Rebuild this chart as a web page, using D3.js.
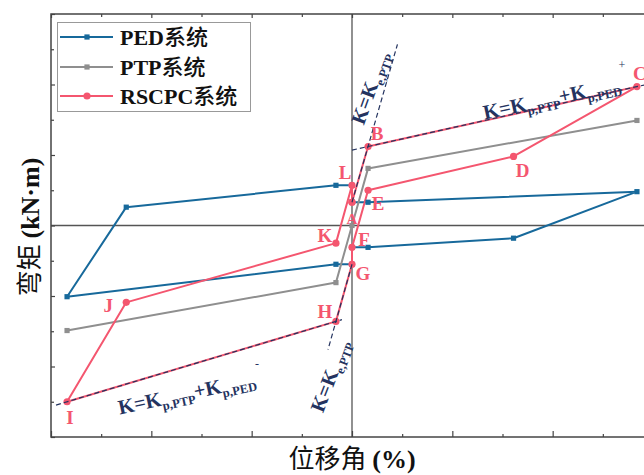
<!DOCTYPE html>
<html><head><meta charset="utf-8">
<script src="https://cdn.jsdelivr.net/npm/d3@7/dist/d3.min.js"></script>
<style>body{margin:0;background:#fff;} svg{display:block;}</style>
</head><body>
<svg id="c" width="644" height="475"></svg>
<script>
// ---------- data ----------
const seriesNames = ["PED系统", "PTP系统", "RSCPC系统"];
const pedX = [0, 0.16, 2.84, 1.61, 0.16, 0, 0, -0.16, -2.84, -2.25, -0.16, 0, 0];
const pedY = [0.33, 0.33, 0.48, -0.18, -0.31, -0.31, -0.55, -0.55, -1.01, 0.26, 0.57, 0.57, 0.33];
const ptpX = [-2.84, -0.16, 0, 0.16, 2.84];
const ptpY = [-1.49, -0.81, 0, 0.81, 1.49];
const rscX = [0, 0.16, 2.84, 1.61, 0.16, 0, 0, -0.16, -2.84, -2.25, -0.16, 0, 0];
const rscY = [0.33, 1.12, 1.97, 0.98, 0.50, -0.31, -0.55, -1.36, -2.50, -1.09, -0.25, 0.57, 0.33];
const pointNames = ["A", "B", "C", "D", "E", "F", "G", "H", "I", "J", "K", "L"];
const pointX = [0, 0.16, 2.84, 1.61, 0.16, 0, 0, -0.16, -2.84, -2.25, -0.16, 0];
const pointY = [0, 1.12, 1.97, 0.98, 0.50, -0.31, -0.55, -1.36, -2.50, -1.09, -0.25, 0.57];
// stiffness guide lines (dashed)
const guideKpUpperX = [0, 2.95], guideKpUpperY = [1.07, 2.005];
const guideKpLowerX = [-2.95, -0.1], guideKpLowerY = [-2.547, -1.335];
const guideKeUpperX = [0, 0.453], guideKeUpperY = [0.33, 2.57];
const guideKeLowerX = [0, -0.239], guideKeLowerY = [-0.55, -1.76];
const xMajorTicks = [-3, -2, -1, 0, 1, 2, 3];
const xMinorTicks = [-2.5, -1.5, -0.5, 0.5, 1.5, 2.5];
const yMajorTicks = [-3, -2, -1, 0, 1, 2, 3];
const yMinorTicks = [-2.5, -1.5, -0.5, 0.5, 1.5, 2.5];

// ---------- layout / style ----------
const colors = ["#17699b", "#8f8f8f", "#f4566f"];
const navy = "#24335f";
const serif = "'Liberation Serif','Times New Roman','Noto Sans CJK SC',serif";
const cjk = "'Noto Sans CJK SC',sans-serif";
const labelOffsets = [[0,-6.5],[9,-13],[3,-13],[9,14],[10,13],[12,-8],[11,9],[-11,-10],[3,16],[-18,3],[-11,-7],[-7,-13]];

const svg = d3.select("#c");
const x = d3.scaleLinear().domain([-3, 3]).range([51, 653]);
const y = d3.scaleLinear().domain([-3, 3]).range([437, 14]);

// zero lines
svg.append("line").attr("x1", x(-3)).attr("x2", x(3)).attr("y1", y(0)).attr("y2", y(0))
  .attr("stroke", "#555").attr("stroke-width", 1.3);
svg.append("line").attr("x1", x(0)).attr("x2", x(0)).attr("y1", y(-3)).attr("y2", y(3))
  .attr("stroke", "#555").attr("stroke-width", 1.3);

// axes (inward ticks, no labels)
function addAxis(gen, tr, vals, size) {
  const g = svg.append("g").attr("transform", tr)
    .call(gen.tickValues(vals).tickSize(size).tickFormat(""));
  g.selectAll("line").attr("stroke", "#444").attr("stroke-width", 1.2);
  g.select(".domain").remove();
}
addAxis(d3.axisBottom(x), `translate(0,${y(-3)})`, xMajorTicks, -6);
addAxis(d3.axisBottom(x), `translate(0,${y(-3)})`, xMinorTicks, -3);
addAxis(d3.axisTop(x), `translate(0,${y(3)})`, xMajorTicks, -4);
addAxis(d3.axisTop(x), `translate(0,${y(3)})`, xMinorTicks, -3);
addAxis(d3.axisLeft(y), `translate(${x(-3)},0)`, yMajorTicks, -4);
addAxis(d3.axisLeft(y), `translate(${x(-3)},0)`, yMinorTicks, -3);
addAxis(d3.axisRight(y), `translate(${x(3)},0)`, yMajorTicks, -4);

// frame
svg.append("rect").attr("x", x(-3)).attr("y", y(3)).attr("width", x(3) - x(-3)).attr("height", y(-3) - y(3))
  .attr("fill", "none").attr("stroke", "#444").attr("stroke-width", 1.5);

const line = d3.line().x(d => x(d[0])).y(d => y(d[1]));
const zip = (a, b) => a.map((v, i) => [v, b[i]]);

const series = [zip(pedX, pedY), zip(ptpX, ptpY), zip(rscX, rscY)];
series.forEach((pts, i) => {
  svg.append("path").attr("d", line(pts)).attr("fill", "none")
    .attr("stroke", colors[i]).attr("stroke-width", 2).attr("stroke-linejoin", "round");
});
// markers
series.forEach((pts, i) => {
  const g = svg.append("g");
  if (i < 2) {
    g.selectAll("rect").data(pts).join("rect")
      .attr("x", d => x(d[0]) - 2.6).attr("y", d => y(d[1]) - 2.6)
      .attr("width", 5.2).attr("height", 5.2).attr("fill", colors[i]);
  } else {
    g.selectAll("circle").data(pts).join("circle")
      .attr("cx", d => x(d[0])).attr("cy", d => y(d[1])).attr("r", 3.6).attr("fill", colors[i]);
  }
});

// dashed guides
[[guideKpUpperX, guideKpUpperY], [guideKpLowerX, guideKpLowerY], [guideKeUpperX, guideKeUpperY], [guideKeLowerX, guideKeLowerY]]
  .forEach(([gx, gy]) => {
    svg.append("path").attr("d", line(zip(gx, gy))).attr("fill", "none")
      .attr("stroke", navy).attr("stroke-width", 1.2).attr("stroke-dasharray", "5,3");
  });

// point labels
pointNames.forEach((n, i) => {
  const o = labelOffsets[i];
  const fs = n === "A" ? 15 : 19;
  svg.append("text").attr("x", x(pointX[i]) + o[0]).attr("y", y(pointY[i]) + o[1] + fs * 0.33)
    .attr("text-anchor", "middle").attr("font-family", serif).attr("font-weight", "bold")
    .attr("font-size", fs).attr("fill", colors[2]).text(n);
});

// stiffness annotations
function kText(cx, cy, angle, parts) {
  const t = svg.append("text").attr("transform", `translate(${cx},${cy}) rotate(${angle})`)
    .attr("text-anchor", "middle").attr("y", 6).attr("font-family", serif)
    .attr("font-weight", "bold").attr("fill", navy);
  parts.forEach(p => {
    t.append("tspan").attr("font-size", p.sub ? 12.5 : 20.5).attr("dy", p.dy).text(p.s);
  });
}
const kpParts = [{s:"K=K", dy:0},{s:"p,PTP", sub:true, dy:5},{s:"+K", dy:-5},{s:"p,PED", sub:true, dy:5}];
const keParts = [{s:"K=K", dy:0},{s:"e,PTP", sub:true, dy:5}];
kText(552, 99, -12, kpParts);
kText(187, 394, -12, kpParts);
kText(371, 88, -70, keParts);
kText(331, 376, -69, keParts);
svg.append("text").attr("x", 622).attr("y", 69).attr("text-anchor", "middle")
  .attr("font-family", serif).attr("font-size", 12).attr("fill", navy).text("+");
svg.append("text").attr("x", 257).attr("y", 368).attr("text-anchor", "middle")
  .attr("font-family", serif).attr("font-size", 12).attr("fill", navy).text("-");

// legend
const lg = svg.append("g");
lg.append("rect").attr("x", 57.5).attr("y", 22.5).attr("width", 193).attr("height", 89)
  .attr("fill", "#fff").attr("stroke", "#999").attr("stroke-width", 1);
const legY = [37, 67, 96];
seriesNames.forEach((n, i) => {
  lg.append("line").attr("x1", 60).attr("x2", 113).attr("y1", legY[i]).attr("y2", legY[i])
    .attr("stroke", colors[i]).attr("stroke-width", 2);
  if (i < 2) lg.append("rect").attr("x", 84.4).attr("y", legY[i] - 2.6).attr("width", 5.2).attr("height", 5.2).attr("fill", colors[i]);
  else lg.append("circle").attr("cx", 87).attr("cy", legY[i]).attr("r", 3.6).attr("fill", colors[i]);
  const t = lg.append("text").attr("x", 120).attr("y", legY[i] + 8).attr("font-size", 22).attr("fill", "#111");
  const latin = n.replace("系统", "");
  t.append("tspan").attr("font-family", serif).attr("font-weight", "bold").text(latin);
  t.append("tspan").attr("font-family", cjk).attr("font-weight", "500").text("系统");
});

// axis titles
const xt = svg.append("text").attr("x", 352).attr("y", 468).attr("text-anchor", "middle").attr("font-size", 26).attr("fill", "#111");
xt.append("tspan").attr("font-family", cjk).text("位移角 ");
xt.append("tspan").attr("font-family", serif).attr("font-weight", "bold").text("(%)");
const yt = svg.append("text").attr("transform", "translate(39,227) rotate(-90)").attr("text-anchor", "middle").attr("font-size", 26).attr("fill", "#111");
yt.append("tspan").attr("font-family", cjk).text("弯矩 ");
yt.append("tspan").attr("font-family", serif).attr("font-weight", "bold").text("(kN·m)");
</script>
</body></html>
